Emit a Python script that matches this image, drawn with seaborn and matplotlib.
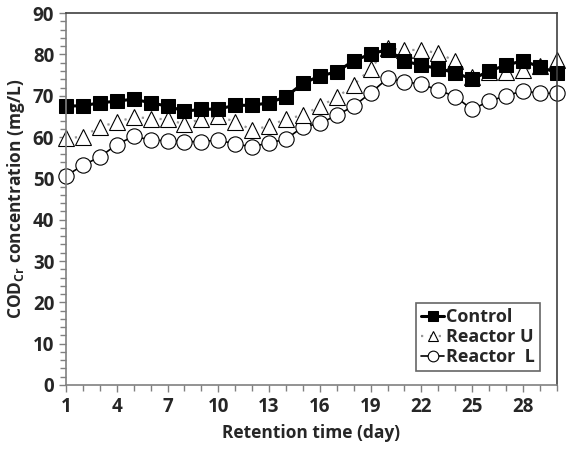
import numpy as np
import pandas as pd
import matplotlib
matplotlib.use("Agg")
import matplotlib.pyplot as plt
from matplotlib.ticker import MultipleLocator, FixedLocator
import seaborn as sns

# ==========================================
# data
# ==========================================
days = list(range(1, 31))
control = [67.5, 67.6, 68.3, 68.7, 69.2, 68.3, 67.5, 66.3, 66.7, 66.8,
           67.7, 67.7, 68.3, 69.8, 73.0, 74.8, 75.8, 78.5, 80.1, 81.2,
           78.4, 77.4, 76.6, 75.6, 74.0, 76.0, 77.4, 78.5, 77.0, 75.6]
reactor_u = [59.7, 60.1, 62.5, 63.6, 64.9, 64.5, 64.3, 63.1, 64.4, 65.1,
             63.7, 61.7, 62.7, 64.4, 65.3, 67.5, 69.6, 72.6, 76.6, 81.5,
             81.1, 81.1, 80.3, 78.4, 74.6, 75.8, 75.8, 76.2, 77.2, 78.6]
reactor_l = [50.6, 53.2, 55.2, 58.2, 60.2, 59.3, 59.1, 58.9, 58.9, 59.3,
             58.3, 57.7, 58.6, 59.5, 62.5, 63.3, 65.3, 67.5, 70.7, 74.2,
             73.4, 72.8, 71.4, 69.8, 66.7, 68.7, 70.0, 71.2, 70.6, 70.6]
series_names = ["Control", "Reactor U", "Reactor  L"]
x_ticks = [1, 4, 7, 10, 13, 16, 19, 22, 25, 28]

df = pd.DataFrame({"day": days * 3,
                   "cod": control + reactor_u + reactor_l,
                   "series": sum([[n] * len(days) for n in series_names], [])})

sns.set_style("ticks")
plt.rcParams['font.family'] = ['Open Sans', 'DejaVu Sans']
plt.rcParams['font.weight'] = 'bold'
plt.rcParams['mathtext.fontset'] = 'custom'
plt.rcParams['mathtext.bf'] = 'Open Sans:bold'

fig = plt.figure(figsize=(5.74, 4.55), dpi=100)
ax = fig.add_axes([0.115, 0.154, 0.855, 0.817])

styles = {
    "Control": dict(marker="s", markersize=10.5, markerfacecolor="black",
                    markeredgecolor="black", color="black", linewidth=2.2, linestyle="-"),
    "Reactor U": dict(marker="^", markersize=11, markerfacecolor="white",
                      markeredgecolor="black", markeredgewidth=0.8, color="#999999",
                      linewidth=1.6, linestyle=(0, (1, 3))),
    "Reactor  L": dict(marker="o", markersize=11, markerfacecolor="white",
                       markeredgecolor="black", markeredgewidth=0.8, color="black",
                       linewidth=1.2, linestyle="-"),
}
# draw back to front so squares sit on top
for name in ["Reactor  L", "Reactor U", "Control"]:
    sub = df[df["series"] == name]
    sns.lineplot(data=sub, x="day", y="cod", ax=ax, label=name, clip_on=False,
                 **styles[name])

ax.set_xlim(1, 30)
ax.set_ylim(0, 90)
ax.xaxis.set_major_locator(FixedLocator(x_ticks))
ax.xaxis.set_minor_locator(MultipleLocator(1))
ax.yaxis.set_major_locator(MultipleLocator(10))
ax.yaxis.set_minor_locator(MultipleLocator(2))
ax.tick_params(which="both", direction="out", color="#808080", width=1)
ax.tick_params(which="major", length=5, labelsize=13.5)
ax.tick_params(which="minor", length=4)
for lbl in ax.get_xticklabels() + ax.get_yticklabels():
    lbl.set_fontweight("bold")
for s in ax.spines.values():
    s.set_visible(True)
    s.set_linewidth(1.2)
ax.spines["left"].set_color("#808080")
ax.spines["bottom"].set_color("#808080")
ax.spines["top"].set_color("#404040")
ax.spines["right"].set_color("#404040")

ax.set_xlabel("Retention time (day)", fontsize=12.5, fontweight="bold", labelpad=5)
ax.set_ylabel("COD$_{\\mathbf{Cr}}$ concentration (mg/L)", fontsize=12.5, fontweight="bold")

handles, labels = ax.get_legend_handles_labels()
order = [labels.index(n) for n in series_names]
leg = ax.legend([handles[i] for i in order], [labels[i] for i in order],
                loc="lower right", frameon=True, fancybox=False,
                prop={"size": 13, "weight": "bold"},
                handlelength=1.3, handletextpad=0.1, borderpad=0.3,
                labelspacing=0.1, markerscale=0.7, bbox_to_anchor=(0.985, 0.012))
leg.get_frame().set_edgecolor("#404040")
leg.get_frame().set_linewidth(1.2)

plt.savefig("out.png", dpi=100)
